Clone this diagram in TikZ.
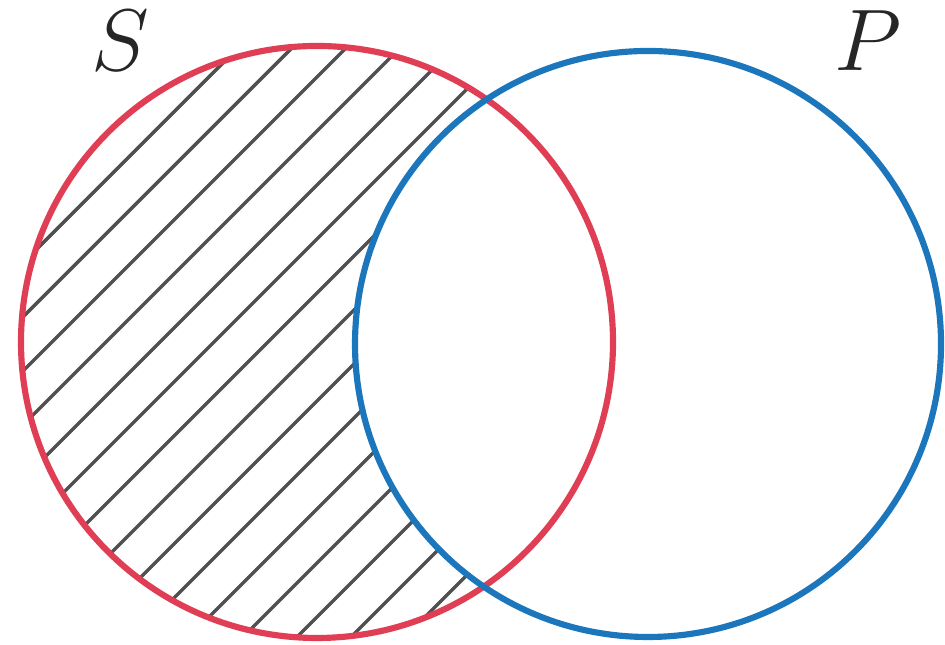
\documentclass[tikz,border=0pt]{standalone}
\definecolor{setred}{RGB}{224,62,84}
\definecolor{setblue}{RGB}{28,118,188}
\definecolor{hatch}{RGB}{80,80,80}
\tikzset{
  setline/.style={line width=1.75pt},
  hatchline/.style={draw=hatch,line width=1pt},
  setlabel/.style={font=\fontsize{27}{27}\selectfont,inner sep=0pt,text=black!85}
}
\begin{document}
\begin{tikzpicture}
\useasboundingbox (0,0) rectangle (9.45,6.45);
\coordinate (cS) at (3.17,3.03);
\coordinate (cP) at (6.48,3.01);
% hatching inside S
\begin{scope}
  \clip (cS) circle (2.96);
  \foreach \k in {-5,...,20} {
    \pgfmathsetmacro{\c}{-3.05+0.54*\k}
    \draw[hatchline] ({\c-1},-1) -- ({\c+8},8);
  }
\end{scope}
% remove hatching inside P
\fill[white] (cP) circle (2.93);
\draw[setline,draw=setred] (cS) circle (2.96);
\draw[setline,draw=setblue] (cP) circle (2.93);
\node[setlabel] (lS) at (1.20,6.04) {$S$};
\node[setlabel] (lP) at (8.68,6.04) {$P$};
\end{tikzpicture}
\end{document}
